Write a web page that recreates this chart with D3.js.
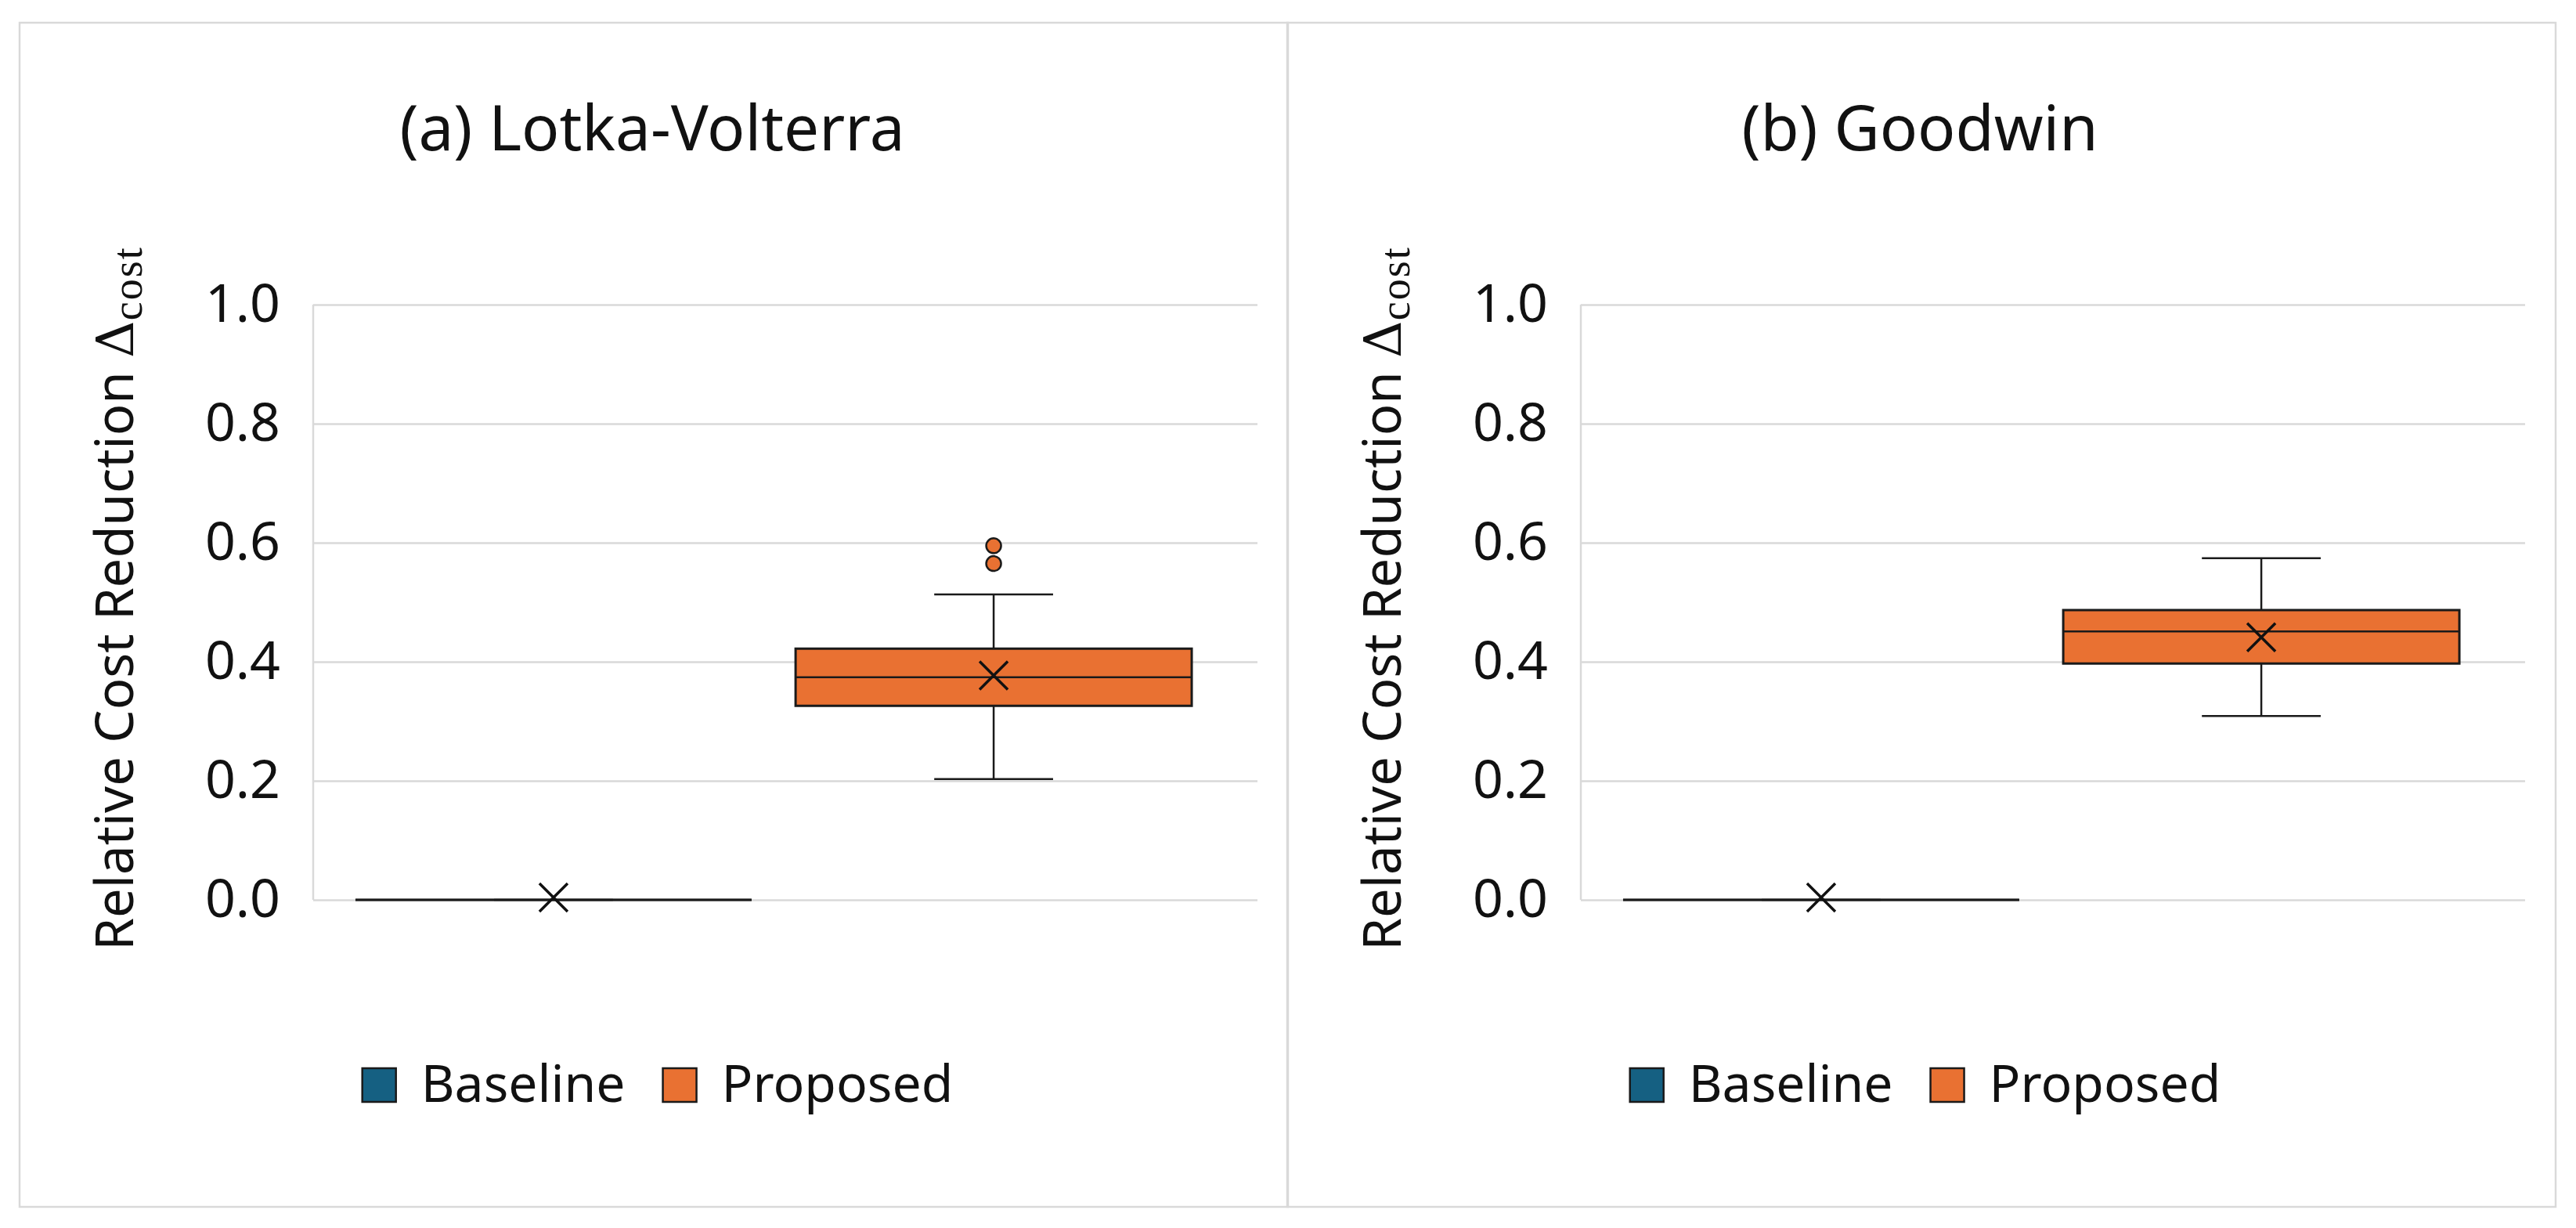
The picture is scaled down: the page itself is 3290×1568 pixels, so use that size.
<!DOCTYPE html>
<html>
<head>
<meta charset="utf-8">
<script src="https://cdn.jsdelivr.net/npm/d3@7"></script>
<style>
  body { margin: 0; background: #fff; }
  svg text { font-family: "Noto Sans", "Open Sans", sans-serif; fill: #111; }
</style>
</head>
<body>
<svg class="grafico-svg"></svg>
<script>
// dados
const panelTitles = ["(a) Lotka-Volterra", "(b) Goodwin"];
const seriesNames = ["Baseline", "Proposed"];
const yTicks = [0, 0.2, 0.4, 0.6, 0.8, 1.0];

// [min, q1, mediana, q3, max]
const lvBaseline = [0, 0, 0, 0, 0];
const lvProposed = [0.203, 0.326, 0.374, 0.422, 0.513];
const lvMeans    = [0.004, 0.377];
const lvOutliers = [0.565, 0.595];

const gwBaseline = [0, 0, 0, 0, 0];
const gwProposed = [0.309, 0.397, 0.451, 0.487, 0.574];
const gwMeans    = [0.004, 0.441];
const gwOutliers = [];

const seriesColors = ["#156082", "#E97132"];

const W = 3290, H = 1568;
const PANEL_W = 1620, PANEL_X0 = 25, PANEL_Y0 = 29, PANEL_H = 1512;
const PLOT_L = 375, PLOT_W = 1206;   // relativo ao painel
const GRID = "#d9d9d9";

const $svg = d3.select(".grafico-svg").attr("width", W).attr("height", H);

const y = d3.scaleLinear().domain([0, 1]).range([1149, 389]);

const x = d3.scaleBand()
    .domain(seriesNames)
    .range([0, PLOT_W - 30])
    .paddingInner(0.1)
    .paddingOuter(0.096);

const panels = [
  { title: panelTitles[0], boxes: [lvBaseline, lvProposed], means: lvMeans, outliers: [[], lvOutliers] },
  { title: panelTitles[1], boxes: [gwBaseline, gwProposed], means: gwMeans, outliers: [[], gwOutliers] }
];

const render_panel = function(p, i) {
  const px = PANEL_X0 + i * (PANEL_W - 1);
  const $p = $svg.append("g").attr("transform", `translate(${px},0)`);

  // moldura
  $p.append("rect")
    .attr("x", 0).attr("y", PANEL_Y0)
    .attr("width", PANEL_W).attr("height", PANEL_H)
    .attr("fill", "none").attr("stroke", GRID).attr("stroke-width", 2.5);

  // titulo
  $p.append("text")
    .attr("x", PANEL_W / 2 - 2).attr("y", 192)
    .attr("text-anchor", "middle")
    .style("font-size", "80px")
    .text(p.title);

  // eixo y + grade
  const $axis = $p.append("g")
    .attr("transform", `translate(${PLOT_L},0)`)
    .call(d3.axisLeft(y)
      .tickValues(yTicks)
      .tickSize(-PLOT_W)
      .tickPadding(42)
      .tickFormat(d3.format(".1f")));
  $axis.select(".domain").remove();
  $axis.selectAll(".tick line").attr("stroke", GRID).attr("stroke-width", 2.5);
  $axis.selectAll(".tick text")
    .attr("fill", "#111")
    .style("font-size", "68px")
    .style("font-family", "'Noto Sans', sans-serif");

  $p.append("line")
    .attr("x1", PLOT_L).attr("x2", PLOT_L)
    .attr("y1", y(1)).attr("y2", y(0))
    .attr("stroke", GRID).attr("stroke-width", 2.5);

  // titulo do eixo
  const $yt = $p.append("text")
    .attr("transform", "translate(145,764) rotate(-90)")
    .attr("text-anchor", "middle")
    .style("font-size", "67px");
  $yt.append("tspan").text("Relative Cost Reduction ");
  $yt.append("tspan")
    .style("font-family", "'DejaVu Serif', 'Liberation Serif', serif")
    .style("font-size", "66px")
    .text("\u0394");
  $yt.append("tspan")
    .attr("dy", 11)
    .style("font-family", "'Liberation Serif', 'DejaVu Serif', serif")
    .style("font-size", "54px")
    .style("letter-spacing", "2px")
    .text("cost");

  // caixas
  const $plot = $p.append("g").attr("transform", `translate(${PLOT_L},0)`);

  seriesNames.forEach(function(name, k) {
    const s = p.boxes[k];
    const x0 = x(name), bw = x.bandwidth(), cx = x0 + bw / 2;
    const capW = bw * 0.3;
    const $b = $plot.append("g");

    // bigodes
    $b.append("path")
      .attr("d", `M${cx},${y(s[3])}V${y(s[4])}M${cx - capW / 2},${y(s[4])}H${cx + capW / 2}` +
                 `M${cx},${y(s[1])}V${y(s[0])}M${cx - capW / 2},${y(s[0])}H${cx + capW / 2}`)
      .attr("stroke", "#1a1a1a").attr("stroke-width", 2.5).attr("fill", "none");

    // caixa (path para desenhar mesmo com altura zero)
    $b.append("path")
      .attr("d", `M${x0},${y(s[3])}H${x0 + bw}V${y(s[1])}H${x0}Z`)
      .attr("fill", seriesColors[k])
      .attr("stroke", "#1a1a1a").attr("stroke-width", 3);

    // mediana
    $b.append("line")
      .attr("x1", x0).attr("x2", x0 + bw)
      .attr("y1", y(s[2])).attr("y2", y(s[2]))
      .attr("stroke", "#1a1a1a").attr("stroke-width", 2.5);

    // media (X)
    const my = y(p.means[k]), r = 18;
    $b.append("path")
      .attr("d", `M${cx - r},${my - r}L${cx + r},${my + r}M${cx + r},${my - r}L${cx - r},${my + r}`)
      .attr("stroke", "#111").attr("stroke-width", 3.5).attr("fill", "none");

    // outliers
    $b.selectAll("circle")
      .data(p.outliers[k])
      .enter()
      .append("circle")
      .attr("cx", cx)
      .attr("cy", d => y(d))
      .attr("r", 9.5)
      .attr("fill", seriesColors[k])
      .attr("stroke", "#1a1a1a")
      .attr("stroke-width", 2.5);
  });

  // legenda
  const $leg = $p.append("g");
  let lx = 0;
  seriesNames.forEach(function(name, k) {
    $leg.append("rect")
      .attr("x", lx).attr("y", 1364)
      .attr("width", 43).attr("height", 43)
      .attr("fill", seriesColors[k])
      .attr("stroke", "#1a1a1a").attr("stroke-width", 2.5);
    const t = $leg.append("text")
      .attr("x", lx + 44 + 31).attr("y", 1407)
      .style("font-size", "66px")
      .text(name);
    lx += 44 + 31 + t.node().getComputedTextLength() + 48;
  });
  const legW = lx - 48;
  $leg.attr("transform", `translate(${PANEL_W / 2 + 5 - legW / 2},0)`);
};

panels.forEach(render_panel);
</script>
</body>
</html>
